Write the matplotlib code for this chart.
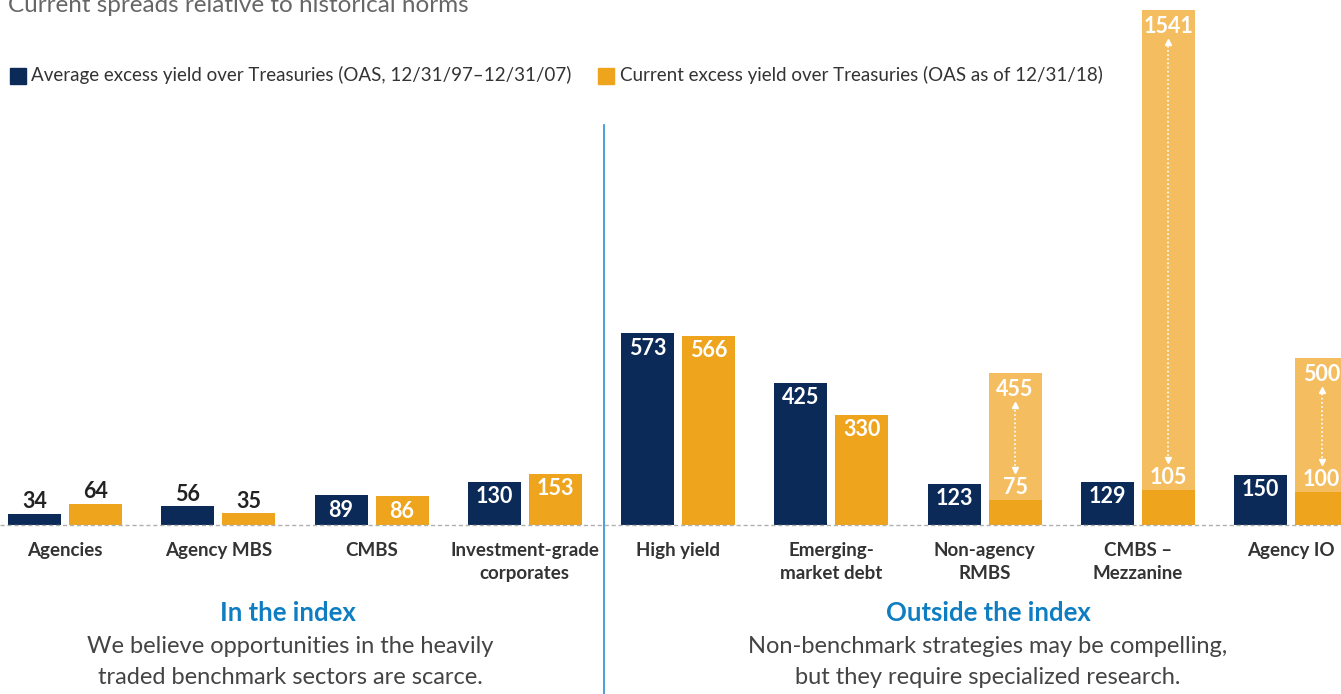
import matplotlib
matplotlib.use("Agg")
import matplotlib.pyplot as plt
from matplotlib.patches import Rectangle

# ---- data ----
categories = ['Agencies', 'Agency MBS', 'CMBS', 'Investment-grade\ncorporates',
              'High yield', 'Emerging-\nmarket debt', 'Non-agency\nRMBS',
              'CMBS –\nMezzanine', 'Agency IO']
avg_oas = [34, 56, 89, 130, 573, 425, 123, 129, 150]
current_oas = [64, 35, 86, 153, 566, 330, 75, 105, 100]
current_high = [None, None, None, None, None, None, 455, 1541, 500]

legend_labels = ['Average excess yield over Treasuries (OAS, 12/31/97–12/31/07)',
                 'Current excess yield over Treasuries (OAS as of 12/31/18)']
title = 'Current spreads relative to historical norms'
left_head = 'In the index'
left_text = 'We believe opportunities in the heavily\ntraded benchmark sectors are scarce.'
right_head = 'Outside the index'
right_text = 'Non-benchmark strategies may be compelling,\nbut they require specialized research.'

# ---- style ----
NAVY = '#0b2a57'
ORANGE = '#eea41c'
LIGHT = '#f4be60'
BLUE = '#0f7dc2'
TXT = '#333333'
FONT = ['Lato', 'DejaVu Sans']
plt.rcParams['font.family'] = FONT

W, H = 1341, 694
fig = plt.figure(figsize=(W / 100, H / 100), dpi=100)
ax = fig.add_axes([0, 0, 1, 1])

S = 0.3345           # pixels per data unit
BASE = 525           # baseline pixel row (from top)
X0, DX = 65, 153.25  # first group centre / spacing in pixels
ax.set_xlim(-X0 / DX, (W - X0) / DX)
ax.set_ylim(-(H - BASE) / S, BASE / S)
ax.axis('off')

def px(v):
    return v / S

bw = 53 / DX
off = 30.5 / DX
xs = list(range(len(categories)))

ax.axhline(0, color='#b0b0b0', ls=(0, (3, 2)), lw=1, zorder=3)

for i in xs:
    ax.bar(i - off, avg_oas[i], width=bw, color=NAVY, zorder=2)
    ax.bar(i + off, current_oas[i], width=bw, color=ORANGE, zorder=2)
    if current_high[i] is not None:
        ax.bar(i + off, current_high[i] - current_oas[i], bottom=current_oas[i],
               width=bw, color=LIGHT, zorder=2)

VS = 15.5

def vlabel(x, v, inside):
    if inside:
        ax.text(x, v - px(15), str(v), ha='center', va='center', color='white',
                fontsize=VS, fontweight='bold', zorder=5)
    else:
        ax.text(x, v + px(12), str(v), ha='center', va='center', color='#222222',
                fontsize=VS, fontweight='bold', zorder=5)

for i in xs:
    vlabel(i - off, avg_oas[i], avg_oas[i] >= 80)
    if current_high[i] is None:
        vlabel(i + off, current_oas[i], current_oas[i] >= 80)
    else:
        hi, lo = current_high[i], current_oas[i]
        ax.text(i + off, hi - px(17), str(hi), ha='center', va='center', color='white',
                fontsize=VS, fontweight='bold', zorder=5)
        ax.text(i + off, lo + px(12), str(lo), ha='center', va='center', color='white',
                fontsize=VS, fontweight='bold', zorder=5)
        y1, y2 = lo + px(30), hi - px(32)
        ax.plot([i + off, i + off], [y1, y2], ls=(0, (1, 1.5)), color='white', lw=1.2, zorder=5)
        ax.plot(i + off, y2, marker='^', ms=4, color='white', zorder=5)
        ax.plot(i + off, y1, marker='v', ms=4, color='white', zorder=5)

for i in xs:
    ax.text(i, -px(17), categories[i], ha='center', va='top', color=TXT,
            fontsize=13.5, fontweight='bold', linespacing=1.4)

# divider
ax.axvline((604 - X0) / DX, ymin=0, ymax=(H - 125) / H, color='#2b8fd4', lw=1.2)

def fx(p): return p / W
def fy(p): return 1 - p / H

# title (cut off at top, as in the source)
fig.text(fx(8), fy(12), title, ha='left', va='baseline', fontsize=17.5,
         color='#666666')

# legend
fig.patches.append(Rectangle((fx(10), fy(84)), 16 / W, 16 / H, transform=fig.transFigure,
                             color=NAVY))
fig.text(fx(31), fy(75), legend_labels[0], ha='left', va='center', fontsize=13.5, color=TXT)
fig.patches.append(Rectangle((fx(598), fy(84)), 16 / W, 16 / H, transform=fig.transFigure,
                             color=ORANGE))
fig.text(fx(620), fy(75), legend_labels[1], ha='left', va='center', fontsize=13.5, color=TXT)

# bottom captions
fig.text(fx(288), fy(613), left_head, ha='center', va='center', fontsize=18.5,
         fontweight='bold', color=BLUE)
fig.text(fx(290), fy(662), left_text, ha='center', va='center', fontsize=17,
         color='#444444', linespacing=1.55)
fig.text(fx(988), fy(613), right_head, ha='center', va='center', fontsize=18.5,
         fontweight='bold', color=BLUE)
fig.text(fx(988), fy(662), right_text, ha='center', va='center', fontsize=17,
         color='#444444', linespacing=1.55)

fig.savefig('out.png', dpi=100)
